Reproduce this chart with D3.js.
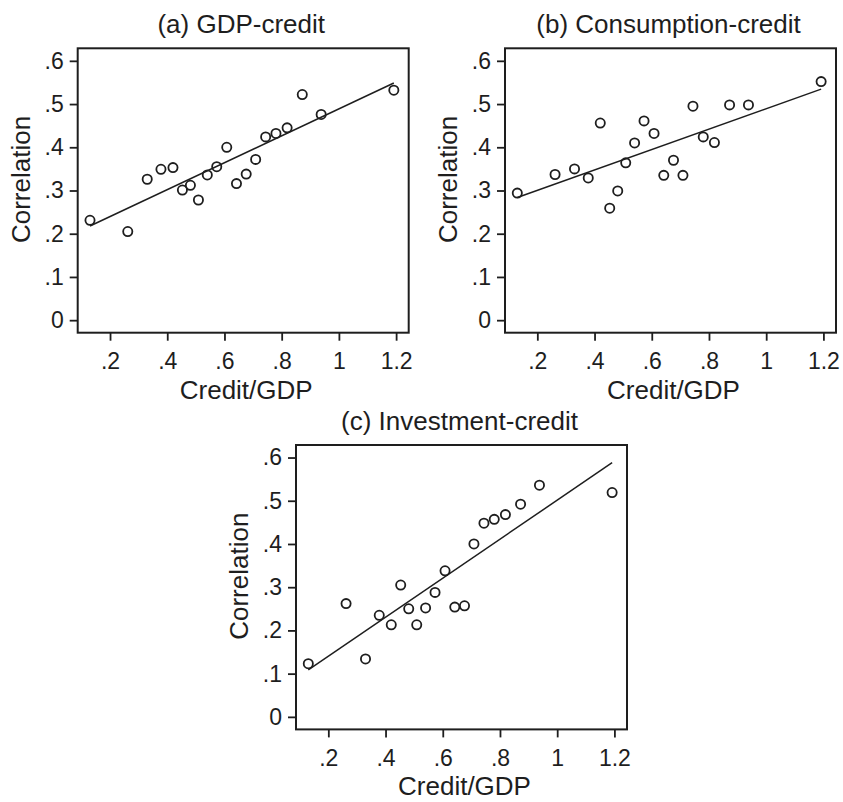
<!DOCTYPE html>
<html>
<head>
<meta charset="utf-8">
<script src="https://cdn.jsdelivr.net/npm/d3@7"></script>
<style>
  body { margin: 0; background: #fff; }
  text { font-family: "Liberation Sans", Arial, sans-serif; fill: #1e1e1e; }
</style>
</head>
<body>
<div id="chart"></div>
<script>
// data (same countries in all panels)
const creditGdp = [0.13, 0.262, 0.33, 0.378, 0.42, 0.453, 0.481, 0.509, 0.54, 0.573,
                   0.608, 0.642, 0.676, 0.709, 0.744, 0.78, 0.819, 0.872, 0.938, 1.192];
const gdpCorr  = [0.231, 0.205, 0.326, 0.349, 0.353, 0.301, 0.312, 0.278, 0.336, 0.355,
                  0.400, 0.316, 0.338, 0.372, 0.424, 0.432, 0.445, 0.522, 0.476, 0.532];
const consCorr = [0.294, 0.337, 0.350, 0.329, 0.456, 0.259, 0.299, 0.364, 0.410, 0.461,
                  0.432, 0.335, 0.370, 0.335, 0.495, 0.424, 0.411, 0.498, 0.498, 0.552];
const invCorr  = [0.123, 0.262, 0.134, 0.235, 0.213, 0.305, 0.250, 0.213, 0.252, 0.288,
                  0.338, 0.254, 0.257, 0.400, 0.448, 0.457, 0.468, 0.492, 0.536, 0.519];

const titles = ["(a) GDP-credit", "(b) Consumption-credit", "(c) Investment-credit"];
const xTicks = [0.2, 0.4, 0.6, 0.8, 1, 1.2];
const yTicks = [0, 0.1, 0.2, 0.3, 0.4, 0.5, 0.6];
const xLabel = "Credit/GDP";
const yLabel = "Correlation";

const W = 843, H = 802;
const pw = 331, ph = 284.4;
const panels = [
  {left: 77.7, top: 48.3, ys: gdpCorr, title: titles[0]},
  {left: 505,  top: 48.3, ys: consCorr, title: titles[1]},
  {left: 296,  top: 445,  ys: invCorr, title: titles[2]}
];

const svg = d3.select("#chart").append("svg")
  .attr("width", W).attr("height", H);

const fmt = d => d3.format("~g")(d).replace(/^0\./, ".");

function ols(xs, ys) {
  const mx = d3.mean(xs), my = d3.mean(ys);
  let sxy = 0, sxx = 0;
  xs.forEach((x, i) => { sxy += (x - mx) * (ys[i] - my); sxx += (x - mx) * (x - mx); });
  const b = sxy / sxx;
  return {a: my - b * mx, b: b};
}

panels.forEach(p => {
  const g = svg.append("g").attr("transform", `translate(${p.left},${p.top})`);

  const x = d3.scaleLinear().domain([0.087, 1.244]).range([0, pw]);
  const y = d3.scaleLinear().domain([-0.029, 0.629]).range([ph, 0]);

  const xAxis = g.append("g").attr("transform", `translate(0,${ph})`)
    .call(d3.axisBottom(x).tickValues(xTicks).tickFormat(fmt).tickSize(8).tickPadding(12));
  const yAxis = g.append("g")
    .call(d3.axisLeft(y).tickValues(yTicks).tickFormat(fmt).tickSize(8).tickPadding(6));

  [xAxis, yAxis].forEach(a => {
    a.select(".domain").remove();
    a.selectAll(".tick line").attr("stroke", "#1e1e1e").attr("stroke-width", 1.8);
    a.selectAll(".tick text").style("font-size", "23px").attr("fill", "#1e1e1e");
  });

  g.append("rect")
    .attr("width", pw).attr("height", ph)
    .attr("fill", "none").attr("stroke", "#1e1e1e").attr("stroke-width", 2);

  // fitted line
  const fit = ols(creditGdp, p.ys);
  const ends = d3.extent(creditGdp);
  g.append("path")
    .datum(ends)
    .attr("fill", "none").attr("stroke", "#1e1e1e").attr("stroke-width", 1.5)
    .attr("d", d3.line().x(d => x(d)).y(d => y(fit.a + fit.b * d)));

  g.selectAll("circle")
    .data(creditGdp.map((c, i) => ({x: c, y: p.ys[i]})))
    .join("circle")
    .attr("cx", d => x(d.x)).attr("cy", d => y(d.y))
    .attr("r", 4.6)
    .attr("fill", "none").attr("stroke", "#1e1e1e").attr("stroke-width", 1.8);

  g.append("text")
    .attr("x", pw / 2 - 2).attr("y", -15)
    .attr("text-anchor", "middle")
    .style("font-size", "26px")
    .text(p.title);

  g.append("text")
    .attr("x", pw / 2 + 3).attr("y", ph + 66)
    .attr("text-anchor", "middle")
    .style("font-size", "26px")
    .text(xLabel);

  g.append("text")
    .attr("transform", `translate(${-48},${ph / 2 - 11}) rotate(-90)`)
    .attr("text-anchor", "middle")
    .style("font-size", "26px")
    .text(yLabel);
});
</script>
</body>
</html>
